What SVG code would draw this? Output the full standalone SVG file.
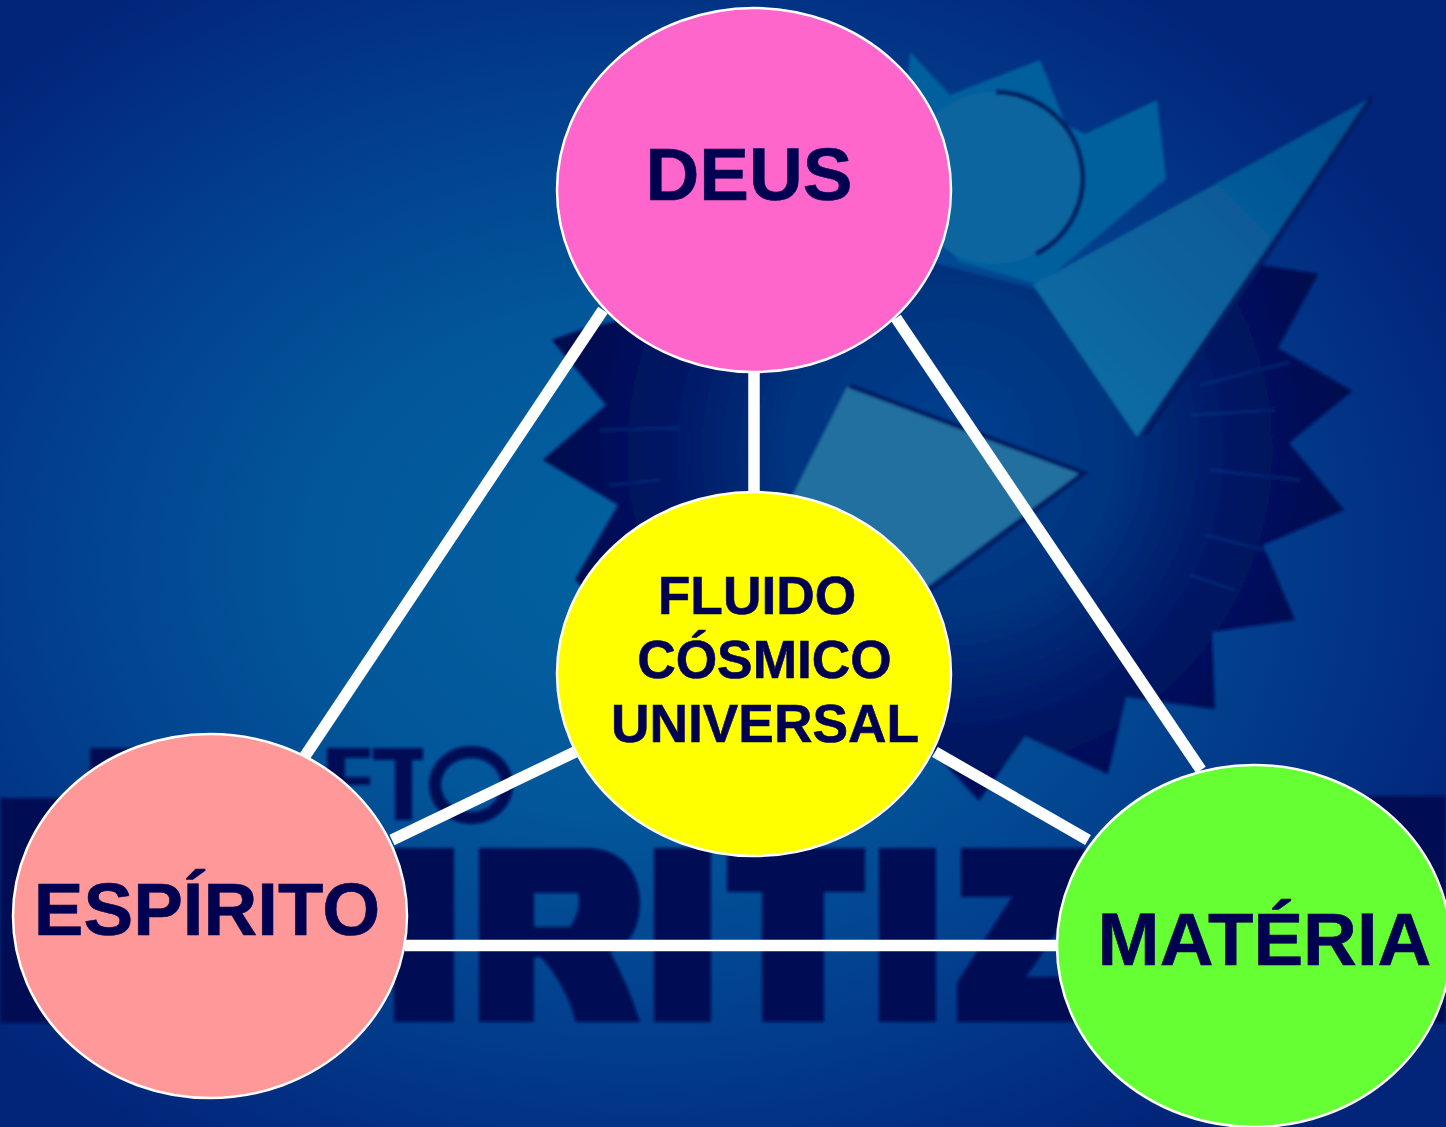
<svg xmlns="http://www.w3.org/2000/svg" width="1446" height="1127" viewBox="0 0 1446 1127">
<defs>
<radialGradient id="bg" gradientUnits="userSpaceOnUse" cx="640" cy="560" r="880" gradientTransform="translate(640 560) scale(1 .78) translate(-640 -560)">
<stop offset="0" stop-color="#02629f"/><stop offset=".38" stop-color="#02569a"/><stop offset=".72" stop-color="#023c8b"/><stop offset="1" stop-color="#02257a"/>
</radialGradient>
<radialGradient id="star" gradientUnits="userSpaceOnUse" cx="950" cy="450" r="410">
<stop offset="0" stop-color="#023f8f"/><stop offset=".4" stop-color="#02347f"/><stop offset=".7" stop-color="#011663"/><stop offset="1" stop-color="#00064c"/>
</radialGradient>
<linearGradient id="tri" x1="0" y1="1" x2="1" y2="0"><stop offset="0" stop-color="#0e70a6"/><stop offset="1" stop-color="#024f90"/></linearGradient>
<filter id="soft" x="-5%" y="-5%" width="110%" height="110%"><feGaussianBlur stdDeviation="1.4"/></filter>
<style>
.link{stroke:#fff;stroke-width:11.5;fill:none}
.disc{stroke:#fff;stroke-width:2.5}
.lbl{font-family:"Liberation Sans",Arial,sans-serif;font-weight:700;fill:#000050;stroke:#000050;stroke-width:.6;text-anchor:middle}
.big{font-size:74.5px}
.mid{font-size:53.3px}
.ink{fill:#000855}
.ray{stroke:#0a4f9c;stroke-width:3;opacity:.3;fill:none}
</style>
</defs>
<rect id="background" width="1446" height="1127" fill="url(#bg)"/>
<g id="backdrop" filter="url(#soft)">
<path fill="#05609e" d="M910 52L950 95L1040 60L1066 125L1085 134L1157 100L1166 179L1040 285L960 262L900 200Z"/>
<circle cx="994" cy="178" r="86" fill="#0a659f"/>
<path d="M996 92A88 86 0 0 1 1036 254" fill="none" stroke="#021c62" stroke-width="5"/>
<path fill="url(#star)" d="M552 340L580 330L700 300L930 262L1040 290L1255 264L1318 274L1278 348L1352 391L1289 443L1344 510L1263 545L1295 620L1212 632L1215 709L1126 697L1108 774L1025 736L979 801L933 751L800 660L640 640L575 580L618 505L543 460L606 405Z"/>
<path class="ray" d="M1200 385L1290 362M1190 415L1275 410M1210 470L1300 480M1205 535L1265 550M1190 575L1235 590M600 430L680 428M610 485L660 480"/>
<path fill="url(#tri)" d="M1033 285L1370 98L1137 437Z"/>
<path fill="none" stroke="#011a62" stroke-width="5" d="M1372 97L1145 435"/>
<path fill="#20709f" d="M847 387L1080 473L925 588L780 520Z"/>
<path fill="none" stroke="#011a62" stroke-width="5" d="M850 386L1084 473L930 590"/>
<path class="ink" d="M0 798H60V1023H0ZM1360 796H1446V1023H1360ZM1100 848H1446V1023H1100Z"/>
<path class="ink" d="M90 748H160V790H90ZM373 748H423V760H412V820H395V760H373ZM327 748H370V758H345V777H370V785H345V830H327Z"/>
<ellipse cx="471" cy="785" rx="36" ry="33" fill="none" stroke="#000855" stroke-width="12"/>
<path class="ink" d="M394 848H454V1022H394Z"/>
<path class="ink" fill-rule="evenodd" d="M479 848H590Q636 852 640 900Q640 942 610 952Q628 985 640 1022H576Q566 985 541 957H534V1022H479ZM534 893V927H570Q582 910 578 893Z"/>
<path class="ink" d="M654 848H711V1022H654ZM727 848H865V892H824V1022H762V892H727ZM879 848H936V1022H879ZM961 848H1085V890L1026 977H1085V1022H957V983L1012 897H961Z"/>
</g>
<g id="connectors">
<line class="link" x1="603" y1="310" x2="305" y2="756"/>
<line class="link" x1="754" y1="368" x2="754" y2="496"/>
<line class="link" x1="896" y1="318" x2="1201" y2="770"/>
<line class="link" x1="575" y1="752" x2="392" y2="840"/>
<line class="link" x1="935" y1="752" x2="1088" y2="840"/>
<line class="link" x1="405" y1="945.5" x2="1058" y2="945.5"/>
</g>
<g id="node-deus">
<ellipse class="disc" cx="754" cy="190" rx="197" ry="182" fill="#ff66cc"/>
<text class="lbl big" x="749" y="200">DEUS</text>
</g>
<g id="node-fluido">
<ellipse class="disc" cx="754" cy="674" rx="197" ry="182" fill="#ffff00"/>
<text class="lbl mid" x="757" y="614">FLUIDO</text>
<text class="lbl mid" x="764.500" y="678">CÓSMICO</text>
<text class="lbl mid" x="765" y="742">UNIVERSAL</text>
</g>
<g id="node-espirito">
<ellipse class="disc" cx="210" cy="916" rx="197" ry="182" fill="#ff9999"/>
<text class="lbl big" x="207" y="935">ESPÍRITO</text>
</g>
<g id="node-materia">
<ellipse class="disc" cx="1254" cy="946" rx="197" ry="181" fill="#66ff33"/>
<text class="lbl big" x="1264.500" y="965">MATÉRIA</text>
</g>
</svg>
